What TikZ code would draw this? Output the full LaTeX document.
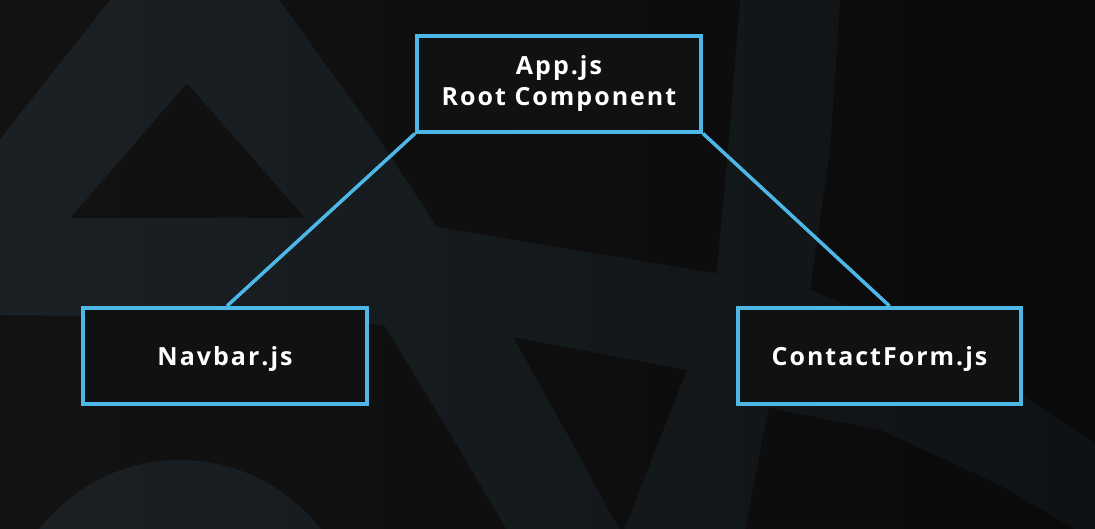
\documentclass[tikz,border=0pt]{standalone}
\usepackage{fontspec}
\setmainfont{Open Sans}
\newfontfamily\boxfont[LetterSpace=8]{Open Sans}
\usetikzlibrary{fadings}
\definecolor{bgc}{HTML}{131314}
\definecolor{bandc}{HTML}{1B2125}
\definecolor{boxc}{HTML}{4DB8E8}
\definecolor{boxfill}{HTML}{111113}
\tikzfading[name=rfade, left color=transparent!100, right color=transparent!55]
\begin{document}
\begin{tikzpicture}[x=1pt,y=-1pt,
  comp/.style={draw=boxc, line width=4pt, fill=boxfill, text=white,
    inner sep=0pt, minimum width=284pt, minimum height=96pt,
    font=\boxfont\bfseries\fontsize{25}{31}\selectfont, align=center},
  single/.style={text height=18pt, text depth=0pt},
  link/.style={draw=boxc, line width=3.5pt},
  band/.style={fill=bandc}]
\useasboundingbox (0,0) rectangle (1095,528);
% background
\fill[bgc] (-10,-10) rectangle (1105,538);
\begin{scope}
\clip (-10,-10) rectangle (1105,538);
% left leg
\fill[band] (110,0) -- (263,0) -- (187,83) -- (70,218) -- (-10,305) -- (-10,152) -- cycle;
% diagonal orbit
\fill[band] (105,-10) -- (272,-10) -- (373,130) -- (437,227) -- (513,337) -- (565,430) -- (625,540)
  -- (513,540) -- (445,425) -- (383,323) -- (305,218) -- (187,83) -- cycle;
% horizontal orbit
\fill[band] (-10,218) -- (305,218) -- (437,227) -- (713,273) -- (800,285) -- (881,320) -- (1000,380) -- (1110,453)
  -- (1110,550) -- (1000,485) -- (881,430) -- (765,407) -- (687,370) -- (513,337) -- (300,318) -- (-10,315) -- cycle;
% right orbit
\fill[band] (741,-10) -- (728,150) -- (717,270) -- (687,370) -- (620,540) -- (743,540) -- (770,400) -- (810,290) -- (830,150) -- (841,-10) -- cycle;
% nucleus
\fill[band] (180,638) circle[radius=178];
\end{scope}
\fill[black, path fading=rfade] (-10,-10) rectangle (1105,538);
% nodes
\node[comp] (app) at (559,83.5) {App.js\\Root Component};
\node[comp, single] (nav) at (225,356) {Navbar.js};
\node[comp, single, minimum width=283pt] (cf) at (879.5,356) {ContactForm.js};
% connectors
\draw[link] (app.south west) -- ([xshift=2pt]nav.north);
\draw[link] (app.south east) -- ([xshift=10pt]cf.north);
\end{tikzpicture}
\end{document}
